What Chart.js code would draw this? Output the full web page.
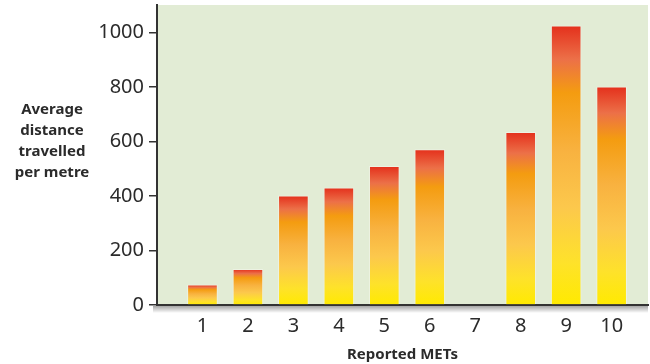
<!DOCTYPE html>
<html lang="en">
<head>
  <meta charset="UTF-8">
  <title>Average distance travelled per metre by reported METs</title>
  <script src="https://cdn.jsdelivr.net/npm/chart.js"></script>
  <style>
    html, body { margin: 0; padding: 0; background: #ffffff; }
    body { font-family: 'Noto Sans', sans-serif; }
    .wrap { position: relative; width: 650px; height: 364px; }
    .ytitle {
      position: absolute; left: 2px; top: 98px; width: 100px;
      text-align: center; font-weight: 700; font-size: 15px; line-height: 21px; color: #2b2b2b;
    }
  </style>
</head>
<body>
  <div class="wrap">
    <canvas id="chart" width="650" height="364"></canvas>
    <div class="ytitle">Average<br>distance<br>travelled<br>per metre</div>
  </div>

  <script>
    const mets = [1, 2, 3, 4, 5, 6, 7, 8, 9, 10];
    const distance = [74, 131, 400, 430, 508, 570, null, 633, 1024, 800];
    const yTicks = [0, 200, 400, 600, 800, 1000];

    // each bar gets its own red -> orange -> yellow fade
    function barFill(ctx) {
      const chart = ctx.chart;
      if (!chart.chartArea || ctx.type !== 'data' || ctx.raw.y == null) return '#f5a012';
      const y = chart.scales.y;
      const top = y.getPixelForValue(ctx.raw.y);
      const bottom = y.getPixelForValue(0);
      const g = chart.ctx.createLinearGradient(0, top, 0, bottom);
      g.addColorStop(0, '#e4301c');
      g.addColorStop(0.12, '#ec7048');
      g.addColorStop(0.24, '#f49c10');
      g.addColorStop(0.45, '#f8b240');
      g.addColorStop(0.65, '#fcc84c');
      g.addColorStop(0.85, '#fee22a');
      g.addColorStop(1, '#ffea00');
      return g;
    }

    const plotBg = {
      id: 'plotBg',
      beforeDraw(chart) {
        const { ctx, chartArea: a } = chart;
        ctx.save();
        ctx.fillStyle = '#e2ecd5';
        ctx.fillRect(a.left, a.top, a.right - a.left, a.bottom - a.top);
        // soft shadow under the baseline
        const g = ctx.createLinearGradient(0, a.bottom + 1, 0, a.bottom + 8);
        g.addColorStop(0, 'rgba(0,0,0,0.35)');
        g.addColorStop(1, 'rgba(0,0,0,0)');
        ctx.fillStyle = g;
        ctx.fillRect(a.left - 4, a.bottom + 1, a.right - a.left + 4, 7);
        ctx.restore();
      }
    };

    new Chart(document.getElementById('chart'), {
      type: 'bar',
      data: {
        datasets: [{
          data: mets.map((m, i) => ({ x: m, y: distance[i] })),
          backgroundColor: barFill,
          borderColor: 'rgba(255,255,255,0.35)',
          borderWidth: 1,
          borderSkipped: 'bottom',
          barThickness: 30
        }]
      },
      options: {
        responsive: false,
        animation: false,
        layout: { padding: { top: 5, right: 2, left: 0, bottom: 0 } },
        plugins: { legend: { display: false }, tooltip: { enabled: false } },
        scales: {
          x: {
            type: 'linear',
            offset: false,
            min: 0,
            max: 10.8,
            afterBuildTicks: s => { s.ticks = mets.map(v => ({ value: v })); },
            afterFit: s => { s.height = 59; s.paddingLeft = 0; s.paddingRight = 0; },
            grid: { display: false, drawTicks: false },
            border: { display: true, color: '#333333', width: 2 },
            ticks: {
              padding: 9,
              color: '#2b2b2b',
              font: { family: 'Noto Sans', size: 20 },
              callback: v => String(v)
            },
            title: {
              display: true,
              text: 'Reported METs',
              color: '#2b2b2b',
              font: { family: 'Noto Sans', size: 15, weight: 'bold' },
              padding: { top: 6, bottom: 0 }
            }
          },
          y: {
            min: 0,
            max: 1100,
            afterBuildTicks: s => { s.ticks = yTicks.map(v => ({ value: v })); },
            afterFit: s => { s.width = 157; s.paddingTop = 0; },
            grid: { drawOnChartArea: false, drawTicks: true, tickLength: 8, color: '#333333', lineWidth: 1.5 },
            border: { display: true, color: '#333333', width: 2 },
            ticks: {
              padding: 5,
              color: '#2b2b2b',
              font: { family: 'Noto Sans', size: 20 },
              callback: v => String(v)
            }
          }
        }
      },
      plugins: [plotBg]
    });
  </script>
</body>
</html>
